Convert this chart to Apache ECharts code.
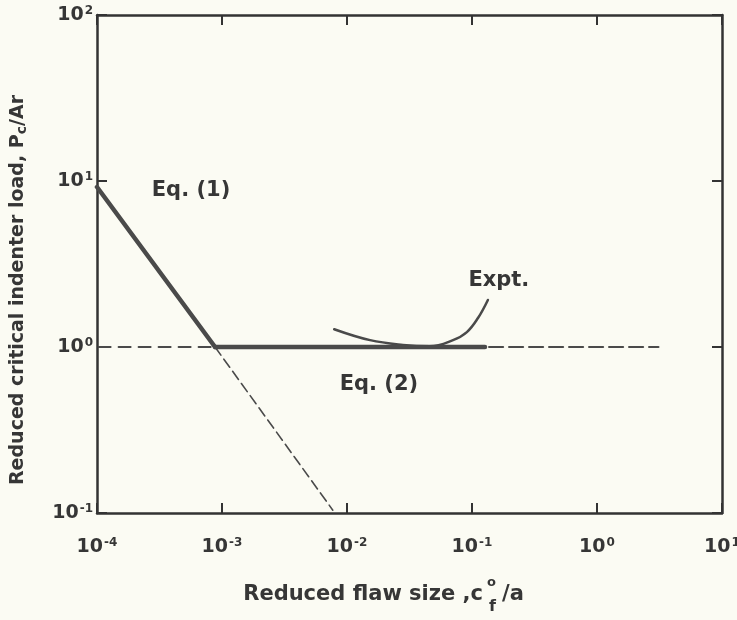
<!DOCTYPE html>
<html>
<head>
<meta charset="utf-8">
<script src="https://cdn.jsdelivr.net/npm/echarts@6/dist/echarts.min.js"></script>
<style>
  html, body { margin: 0; padding: 0; background: #fbfbf3; }
  #main { width: 737px; height: 620px; }
</style>
</head>
<body>
<div id="main"></div>
<script>
// reduced flaw size (x) vs reduced critical indenter load (y), both log
const eq1Solid = [[1e-4, 9.2], [8.8e-4, 1]];
const eq1Dashed = [[8.8e-4, 1], [7.7e-3, 0.104]];
const eq2Solid = [[8.8e-4, 1], [0.127, 1]];
const eq2DashLeft = [[1.03e-4, 1], [8.8e-4, 1]];
const eq2DashRight = [[0.137, 1], [3.1, 1]];
const expt = [[7.9e-3, 1.28], [0.0153, 1.10], [0.028, 1.03], [0.046, 1.01], [0.0705, 1.10], [0.091, 1.23], [0.112, 1.50], [0.134, 1.92]];
const notes = [
    { text: 'Eq. (1)', at: [5.65e-4, 8.8] },
    { text: 'Eq. (2)', at: [0.018, 0.59] },
    { text: 'Expt.', at: [0.164, 2.53] }
];

const ink = '#363636';
const wide = 'DejaVu Sans';

function powLabel(v) {
    const e = Math.round(Math.log10(v));
    return '{b|10}{s|' + e + '}';
}
const labelRich = {
    b: { fontSize: 19, fontFamily: wide, fontWeight: 'bold', color: ink },
    s: { fontSize: 12, fontFamily: wide, fontWeight: 'bold', color: ink, verticalAlign: 'top', padding: [0, 0, 9, 1] }
};
const frame = { show: true, lineStyle: { color: '#333', width: 2.5 } };
const ticks = { show: true, inside: true, length: 10, lineStyle: { color: '#333', width: 2 } };

const myChart = echarts.init(document.getElementById('main'), null, { renderer: 'canvas' });

function line(data, width, type, smooth) {
    return {
        type: 'line', data, smooth: smooth || false, symbol: 'none', silent: true,
        lineStyle: { color: '#4a4a4a', width, type, cap: 'round' },
        z: width > 3 ? 3 : 2
    };
}

const option = {
    backgroundColor: '#fbfbf3',
    animation: false,
    grid: { left: 97, right: 15, top: 15, bottom: 107, containLabel: false, outerBoundsMode: 'none' },
    xAxis: [
        {
            type: 'log', min: 1e-4, max: 10, logBase: 10,
            axisLine: frame, axisTick: ticks, splitLine: { show: false }, minorTick: { show: false },
            axisLabel: { margin: 24, formatter: powLabel, rich: labelRich }
        },
        {
            type: 'log', min: 1e-4, max: 10, position: 'top',
            axisLine: frame, axisTick: ticks, splitLine: { show: false }, axisLabel: { show: false }
        }
    ],
    yAxis: [
        {
            type: 'log', min: 0.1, max: 100, logBase: 10,
            axisLine: frame, axisTick: ticks, splitLine: { show: false },
            axisLabel: { margin: 4, formatter: powLabel, rich: labelRich }
        },
        {
            type: 'log', min: 0.1, max: 100, position: 'right',
            axisLine: frame, axisTick: ticks, splitLine: { show: false }, axisLabel: { show: false }
        }
    ],
    series: [
        line(eq2DashLeft, 2, [12, 8]),
        line(eq1Dashed, 1.6, [10, 5]),
        line(eq2DashRight, 2.2, [14, 6]),
        line(eq1Solid, 4.5, 'solid'),
        line(eq2Solid, 4.5, 'solid'),
        line(expt, 2.5, 'solid', 0.4),
        {
            type: 'scatter', symbolSize: 0, silent: true,
            itemStyle: { opacity: 1 },
            data: notes.map(n => ({ value: n.at, name: n.text })),
            label: {
                show: true, position: 'inside', formatter: p => p.name,
                fontFamily: wide, fontWeight: 'bold', fontSize: 21, color: ink
            }
        }
    ],
    graphic: [
        {
            type: 'text', x: 18, y: 290, rotation: Math.PI / 2,
            style: {
                text: 'Reduced critical indenter load, P{sub|c}/Ar',
                align: 'center', verticalAlign: 'middle',
                font: 'bold 19px "DejaVu Sans"', fill: ink,
                rich: { sub: { font: 'bold 14px "DejaVu Sans"', fill: ink, padding: [8, 0, 0, 0] } }
            }
        },
        {
            type: 'group',
            children: [
                {
                    type: 'text', x: 483, y: 595,
                    style: { text: 'Reduced flaw size ,c', align: 'right', verticalAlign: 'middle', font: 'bold 21px "DejaVu Sans"', fill: ink }
                },
                {
                    type: 'text', x: 487, y: 583,
                    style: { text: 'o', align: 'left', verticalAlign: 'middle', font: 'bold 13px "DejaVu Sans"', fill: ink }
                },
                {
                    type: 'text', x: 489, y: 607,
                    style: { text: 'f', align: 'left', verticalAlign: 'middle', font: 'bold 16px "DejaVu Sans"', fill: ink }
                },
                {
                    type: 'text', x: 502, y: 595,
                    style: { text: '/a', align: 'left', verticalAlign: 'middle', font: 'bold 21px "DejaVu Sans"', fill: ink }
                }
            ]
        }
    ]
};

myChart.setOption(option);
</script>
</body>
</html>
